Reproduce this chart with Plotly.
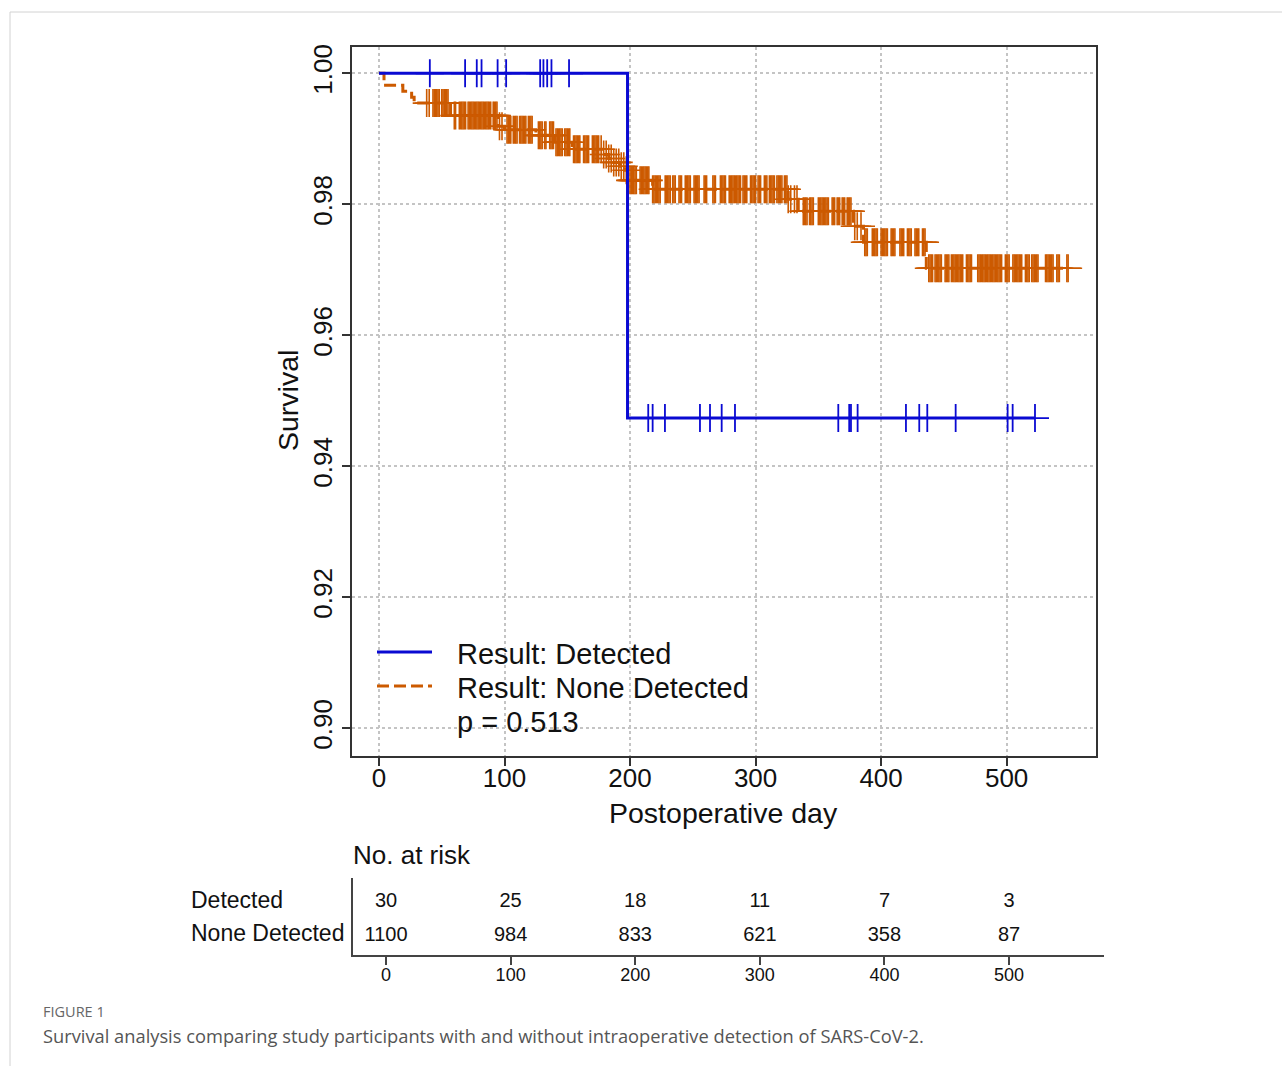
import numpy as np
import plotly.graph_objects as go

# ---------------- data ----------------
# Detected group: Kaplan-Meier step function
blue_step_times = [0, 198]
blue_step_surv = [1.0, 0.94737]
blue_censor = [40.5, 68.6, 77.9, 81.7, 94.5, 101.3, 128.4, 131.0, 134.0, 137.4, 151.4,
               214.5, 218.0, 227.8, 255.7, 263.7, 273.0, 283.6, 365.9, 374.6, 376.0,
               381.3, 419.8, 430.4, 436.8, 459.4, 500.8, 504.8, 522.6]

# None Detected group: Kaplan-Meier step function
orange_step_times = [0, 4, 19, 26, 28, 57, 95, 100, 125, 140, 154, 178, 183, 187, 192,
                     196, 198, 218, 326, 334, 378, 386, 436]
orange_step_surv = [1.0, 0.99818, 0.99727, 0.99636, 0.99545, 0.99354, 0.99191, 0.99137,
                    0.99053, 0.98947, 0.98840, 0.98760, 0.98700, 0.98640, 0.98580,
                    0.98520, 0.98366, 0.98229, 0.98076, 0.97893, 0.97664, 0.97420, 0.97023]
orange_censor = [
    38, 40, 43, 44, 45, 46, 47, 48, 50, 51, 52, 53, 54, 55,
    60, 61, 64, 65, 66, 67, 68, 69, 71, 72, 73, 74, 75, 76, 77, 78, 79, 80, 81, 82, 83,
    84, 85, 86, 87, 88, 89, 91, 92, 93, 94,
    96, 98,
    102, 103, 104, 105, 107, 108, 109, 110, 112, 113, 114, 115, 116, 117, 119, 120, 121, 122,
    127, 128, 129, 130, 132, 133, 136, 137, 138, 139,
    141, 142, 143, 144, 145, 146, 148, 149, 150, 151, 152,
    155, 156, 157, 158, 159, 160, 163, 164, 165, 166, 167, 170, 171, 172, 173, 174, 175,
    177, 179, 181, 183, 185, 187, 189, 191, 193, 195, 197,
    200, 201, 202, 203, 204, 205, 208, 209, 210, 211, 212, 213, 214, 215,
    218, 219, 220, 221, 222, 223, 224, 228, 229, 230, 231, 232, 234, 235, 236,
    239, 240, 241, 244, 245, 246, 247, 248, 251, 252, 253, 254, 255, 259, 260, 261,
    266, 267, 268, 272, 273, 274, 275, 276, 279, 280, 281, 282, 283, 284, 285, 286, 287, 288,
    290, 291, 292, 293, 296, 297, 298, 299, 300, 302, 303, 304, 307, 308, 309,
    311, 312, 313, 314, 315, 317, 318, 319, 320, 321, 323, 324, 325,
    326, 328, 331, 333,
    338, 339, 340, 341, 343, 344, 345, 346, 350, 351, 352, 353, 354, 355, 356, 357, 358,
    361, 362, 363, 365, 366, 367, 369, 370, 371, 373, 374, 375, 376,
    379, 381, 384,
    387, 388, 389, 393, 394, 395, 396, 397, 400, 401, 402, 403, 404, 405, 408, 409, 410, 411,
    415, 416, 417, 418, 421, 422, 423, 424, 427, 428, 429, 430, 433, 434, 435,
    438, 439, 440, 441, 443, 444, 445, 446, 447, 448, 451, 452, 453, 454,
    456, 457, 458, 459, 460, 461, 462, 463, 464, 465, 468, 469, 470, 471, 472,
    477, 478, 479, 480, 481, 482, 483, 484, 485, 486, 487, 488, 489, 490, 491, 492, 493,
    494, 495, 496, 499, 500, 501, 502, 505, 506, 507, 508, 509, 510, 511, 512,
    515, 516, 517, 518, 520, 521, 522, 523, 524, 525, 531, 532, 533, 534, 535, 536, 537,
    540, 541, 542, 548, 549]

# Risk table
risk_times = [0, 100, 200, 300, 400, 500]
risk_detected = [30, 25, 18, 11, 7, 3]
risk_none = [1100, 984, 833, 621, 358, 87]

x_ticks = [0, 100, 200, 300, 400, 500]
y_ticks = [0.90, 0.92, 0.94, 0.96, 0.98, 1.00]
y_ticktext = ["0.90", "0.92", "0.94", "0.96", "0.98", "1.00"]

BLUE = "#0a0ad2"
ORANGE = "#cc5a00"
FONT = "Liberation Sans, Arial, sans-serif"
CAPFONT = "Open Sans, Noto Sans, sans-serif"


def surv_at(times, surv, t):
    times = np.asarray(times, float)
    surv = np.asarray(surv, float)
    idx = np.searchsorted(times, np.asarray(t, float), side="right") - 1
    return surv[idx]


# ---------------- layout geometry (pixels) ----------------
W, H = 1282, 1066
L, R, T, B = 352, 1104, 47, 955


def px(x):
    return (x - L) / (R - L)


def py(y):
    return (B - y) / (B - T)


fig = go.Figure()

# orange curve
o_end = max(orange_censor)
fig.add_trace(go.Scatter(
    x=list(orange_step_times) + [o_end],
    y=list(orange_step_surv) + [orange_step_surv[-1]],
    mode="lines", line=dict(color=ORANGE, width=3, dash="12px,5px", shape="hv"),
    hoverinfo="skip", xaxis="x", yaxis="y"))
fig.add_trace(go.Scatter(
    x=orange_censor, y=surv_at(orange_step_times, orange_step_surv, orange_censor),
    mode="markers",
    marker=dict(symbol="cross-thin", size=20, line=dict(color=ORANGE, width=1.6)),
    hoverinfo="skip", xaxis="x", yaxis="y"))

# blue curve
b_end = max(blue_censor)
fig.add_trace(go.Scatter(
    x=list(blue_step_times) + [b_end],
    y=list(blue_step_surv) + [blue_step_surv[-1]],
    mode="lines", line=dict(color=BLUE, width=3, shape="hv"),
    hoverinfo="skip", xaxis="x", yaxis="y"))
fig.add_trace(go.Scatter(
    x=blue_censor, y=surv_at(blue_step_times, blue_step_surv, blue_censor),
    mode="markers",
    marker=dict(symbol="cross-thin", size=20, line=dict(color=BLUE, width=1.8)),
    hoverinfo="skip", xaxis="x", yaxis="y"))

# risk table numbers
fig.add_trace(go.Scatter(
    x=risk_times + risk_times, y=[1] * 6 + [0] * 6,
    text=[str(v) for v in risk_detected] + [str(v) for v in risk_none],
    mode="text", textfont=dict(family=FONT, size=20, color="#111"),
    hoverinfo="skip", xaxis="x2", yaxis="y2"))

axis_common = dict(
    showline=True, linecolor="#333", linewidth=2, mirror=True,
    ticks="outside", ticklen=8, tickwidth=1.5, tickcolor="#333",
    showgrid=True, gridcolor="#c4c4c4", griddash="dot", gridwidth=1.5,
    zeroline=False, tickfont=dict(family=FONT, size=26, color="#111"),
)

fig.update_layout(
    width=W, height=H,
    margin=dict(l=L, r=W - R, t=T, b=H - B, pad=0),
    paper_bgcolor="white", plot_bgcolor="white",
    showlegend=False,
    xaxis=dict(domain=[0, px(1096)], range=[-21.5, 571.2], tickvals=x_ticks,
               anchor="y", ticklabelstandoff=-10, **axis_common),
    yaxis=dict(domain=[py(756), 1], range=[0.895771, 1.004015], tickvals=y_ticks,
               ticktext=y_ticktext, tickangle=-90, anchor="x", **axis_common),
    xaxis2=dict(domain=[px(353), 1], range=[-26.5, 576.2], tickvals=x_ticks,
                anchor="y2", showline=True, linecolor="#444", linewidth=1.5,
                ticks="outside", ticklen=8, tickwidth=1.5, tickcolor="#444",
                showgrid=False, zeroline=False, ticklabelstandoff=-5,
                tickfont=dict(family=FONT, size=18, color="#111")),
    yaxis2=dict(domain=[0, py(878)], range=[-0.56, 1.71], anchor="x2",
                showline=True, linecolor="#444", linewidth=1.5, ticks="",
                showticklabels=False, showgrid=False, zeroline=False),
)

ann = []


def add_text(text, x, y, size, color="#111", xanchor="left", angle=0, family=FONT):
    ann.append(dict(text=text, x=px(x), y=py(y), xref="paper", yref="paper",
                    xanchor=xanchor, yanchor="middle", showarrow=False,
                    textangle=angle, font=dict(family=family, size=size, color=color)))


add_text("Postoperative day", 723, 813, 28.5, xanchor="center")
add_text("Survival", 288, 401, 28.5, xanchor="center", angle=-90)
add_text("Result: Detected", 455, 654, 29)
add_text("Result: None Detected", 455, 688, 29)
add_text("p = 0.513", 455, 722, 29)
add_text("No. at risk", 351, 855, 26)
add_text("Detected", 189, 900, 23)
add_text("None Detected", 189, 933, 23)
add_text("FIGURE 1", 41, 1011, 14.5, color="#666", family=CAPFONT)
add_text("Survival analysis comparing study participants with and without intraoperative "
         "detection of SARS-CoV-2.", 41, 1035, 18.3, color="#555", family=CAPFONT)
fig.update_layout(annotations=ann)

shapes = [
    # card border
    dict(type="line", xref="paper", yref="paper", x0=px(10), x1=px(1282), y0=py(12), y1=py(12),
         line=dict(color="#d2d2d2", width=1)),
    dict(type="line", xref="paper", yref="paper", x0=px(10), x1=px(10), y0=py(12), y1=py(1066),
         line=dict(color="#d2d2d2", width=1)),
    # legend keys
    dict(type="line", xref="paper", yref="paper", x0=px(377), x1=px(432), y0=py(652), y1=py(652),
         line=dict(color=BLUE, width=3)),
    dict(type="line", xref="paper", yref="paper", x0=px(377), x1=px(432), y0=py(686), y1=py(686),
         line=dict(color=ORANGE, width=3, dash="12px,5px")),
]
fig.update_layout(shapes=shapes)

fig.write_html("out.html", config={"displayModeBar": False},
               post_script="document.body.style.margin='0';")
